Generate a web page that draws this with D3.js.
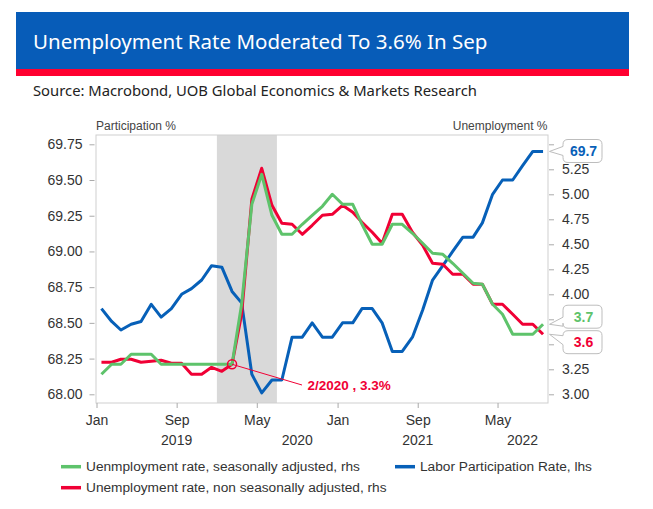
<!DOCTYPE html>
<html><head><meta charset="utf-8">
<script src="https://cdn.jsdelivr.net/npm/d3@7"></script>
<style>body{margin:0;background:#fff} svg{display:block}</style>
</head><body>
<script>
// ---------------- data ----------------
const months = ["2019-01","2019-02","2019-03","2019-04","2019-05","2019-06","2019-07","2019-08","2019-09","2019-10","2019-11","2019-12",
"2020-01","2020-02","2020-03","2020-04","2020-05","2020-06","2020-07","2020-08","2020-09","2020-10","2020-11","2020-12",
"2021-01","2021-02","2021-03","2021-04","2021-05","2021-06","2021-07","2021-08","2021-09","2021-10","2021-11","2021-12",
"2022-01","2022-02","2022-03","2022-04","2022-05","2022-06","2022-07","2022-08","2022-09"];
const participation = [68.60,68.51,68.45,68.49,68.51,68.63,68.54,68.60,68.70,68.74,68.80,68.90,
68.89,68.72,68.64,68.14,68.01,68.10,68.10,68.40,68.40,68.50,68.40,68.40,
68.50,68.50,68.60,68.60,68.50,68.30,68.30,68.40,68.59,68.80,68.90,69.00,
69.10,69.10,69.20,69.40,69.50,69.50,69.60,69.70,69.70];
const unempSA = [3.20,3.30,3.30,3.40,3.40,3.40,3.30,3.30,3.30,3.30,3.30,3.30,
3.30,3.30,3.90,4.90,5.20,4.79,4.60,4.60,4.70,4.79,4.88,5.00,
4.90,4.90,4.70,4.50,4.50,4.70,4.70,4.61,4.51,4.41,4.40,4.31,
4.21,4.11,4.10,3.90,3.80,3.60,3.60,3.60,3.70];
const unempNSA = [3.32,3.32,3.35,3.35,3.32,3.33,3.34,3.31,3.31,3.20,3.20,3.27,
3.23,3.30,3.80,4.95,5.26,4.89,4.71,4.70,4.60,4.69,4.79,4.80,
4.89,4.82,4.72,4.62,4.51,4.80,4.80,4.62,4.49,4.31,4.30,4.20,
4.20,4.10,4.10,3.90,3.90,3.80,3.70,3.70,3.60];
const leftTicks = [68.00,68.25,68.50,68.75,69.00,69.25,69.50,69.75];
const rightTicks = [3.00,3.25,3.50,3.75,4.00,4.25,4.50,4.75,5.00,5.25,5.50];
const rightTicksCovered = [3.50,3.75,5.50];   // labels hidden behind the end-value callouts
const monthTickDates = ["2019-01","2019-09","2020-05","2021-01","2021-09","2022-05"];
const monthTickNames = ["Jan","Sep","May","Jan","Sep","May"];
const yearLabels = ["2019","2020","2021","2022"];
const yearLabelDates = ["2019-09-01","2020-09-01","2021-09-01","2022-07-16"];
const shadeRange = ["2020-01-01","2020-07-01"];
const annotMonth = "2020-02", annotValue = 3.3, annotText = "2/2020 , 3.3%";
const seriesNames = ["Uenmployment rate, seasonally adjusted, rhs","Unemployment rate, non seasonally adjusted, rhs","Labor Participation Rate, lhs"];
const titleText = "Unemployment Rate Moderated To 3.6% In Sep";
const sourceText = "Source: Macrobond, UOB Global Economics & Markets Research";

// ---------------- styles ----------------
const C = {blue:"#0760b8", green:"#5ec36b", red:"#f00035", hdrBlue:"#075cb8", hdrRed:"#ff0030", shade:"#d9d9d9", frame:"#cfcfcf", text:"#333"};
const W = 653, H = 509;
const plot = {l:96.5, r:548, t:135, b:403};
const font = "'Liberation Sans', Arial, sans-serif";

const parseM = d3.timeParse("%Y-%m");
const parseD = d3.timeParse("%Y-%m-%d");
const mid = s => d3.timeDay.offset(parseM(s), 15);

const x = d3.scaleTime().domain([parseD("2019-01-01"), parseD("2022-10-01")]).range([plot.l, plot.r]);
const yL = d3.scaleLinear().domain([68, 69.75]).range([394.3, 144.3]);
const yR = d3.scaleLinear().domain([3, 5.5]).range([394.3, 144.3]);

const svg = d3.select("body").append("svg").attr("width", W).attr("height", H);

// header
svg.append("rect").attr("x",16).attr("y",12).attr("width",613).attr("height",57).attr("fill",C.hdrBlue);
svg.append("rect").attr("x",16).attr("y",69).attr("width",613).attr("height",7).attr("fill",C.hdrRed);
svg.append("text").attr("x",33).attr("y",48.5).attr("fill","#fff")
  .style("font-family","'Noto Sans', 'Open Sans', sans-serif").style("font-size","20.5px").text(titleText);
svg.append("text").attr("x",33).attr("y",96).attr("fill","#222")
  .style("font-family","'Noto Sans', 'Open Sans', sans-serif").style("font-size","14.8px").text(sourceText);

// shading
svg.append("rect").attr("x", x(parseD(shadeRange[0]))).attr("y", plot.t)
  .attr("width", x(parseD(shadeRange[1])) - x(parseD(shadeRange[0]))).attr("height", plot.b - plot.t).attr("fill", C.shade);

// frame
svg.append("rect").attr("x",plot.l-0.5).attr("y",plot.t).attr("width",plot.r-plot.l+0.5).attr("height",plot.b-plot.t)
  .attr("fill","none").attr("stroke",C.frame).attr("stroke-width",1);

// left axis
const gL = svg.append("g").attr("transform",`translate(94.5,0)`)
  .call(d3.axisLeft(yL).tickValues(leftTicks).tickFormat(d3.format(".2f")).tickSize(5).tickPadding(7));
gL.select(".domain").remove();
gL.selectAll("line").attr("stroke","#aaa");
gL.selectAll("text").style("font-family",font).style("font-size","14px").attr("fill",C.text);

// right axis
const fmt2 = d3.format(".2f");
const gR = svg.append("g").attr("transform",`translate(549,0)`)
  .call(d3.axisRight(yR).tickValues(rightTicks).tickFormat(d => rightTicksCovered.includes(d) ? "" : fmt2(d)).tickSize(5).tickPadding(8));
gR.select(".domain").remove();
gR.selectAll("line").attr("stroke","#aaa");
gR.selectAll("text").style("font-family",font).style("font-size","14px").attr("fill",C.text);

// bottom axis
const gB = svg.append("g").attr("transform",`translate(0,${plot.b})`)
  .call(d3.axisBottom(x).tickValues(monthTickDates.map(parseM)).tickFormat((d,i)=>monthTickNames[i]).tickSize(5).tickPadding(7));
gB.select(".domain").remove();
gB.selectAll("line").attr("stroke","#aaa");
gB.selectAll("text").style("font-family",font).style("font-size","14px").attr("fill",C.text);
svg.append("g").selectAll("text").data(yearLabels).join("text")
  .attr("x",(d,i)=>x(parseD(yearLabelDates[i]))).attr("y",445).attr("text-anchor","middle")
  .style("font-family",font).style("font-size","14px").attr("fill",C.text).text(d=>d);

// axis titles
svg.append("text").attr("x",96).attr("y",129.5).style("font-family",font).style("font-size","12px").attr("fill","#444").text("Participation %");
svg.append("text").attr("x",547.5).attr("y",129.5).attr("text-anchor","end").style("font-family",font).style("font-size","12px").attr("fill","#444").text("Unemployment %");

// series
const dates = months.map(mid);
const lineL = d3.line().x((d,i)=>x(dates[i])).y(d=>yL(d));
const lineR = d3.line().x((d,i)=>x(dates[i])).y(d=>yR(d));
svg.append("path").datum(participation).attr("d",lineL).attr("fill","none").attr("stroke",C.blue).attr("stroke-width",3).attr("stroke-linejoin","round");
svg.append("path").datum(unempNSA).attr("d",lineR).attr("fill","none").attr("stroke",C.red).attr("stroke-width",3).attr("stroke-linejoin","round");
svg.append("path").datum(unempSA).attr("d",lineR).attr("fill","none").attr("stroke",C.green).attr("stroke-width",3).attr("stroke-linejoin","round");

// annotation
const ax = x(mid(annotMonth)), ay = yR(annotValue);
svg.append("line").attr("x1",ax).attr("y1",ay).attr("x2",302).attr("y2",385).attr("stroke",C.red).attr("stroke-width",1);
svg.append("circle").attr("cx",ax).attr("cy",ay).attr("r",4.5).attr("fill","none").attr("stroke",C.red).attr("stroke-width",1.5);
svg.append("text").attr("x",307.5).attr("y",389.5).style("font-family",font).style("font-size","13.5px").style("font-weight","bold").attr("fill",C.red).text(annotText);

// end callouts
function callout(tipY, boxCY, label, color){
  const bx = 563, bw = 39, bh = 23, r = 5, tipX = 549.5;
  const top = boxCY - bh/2, bot = boxCY + bh/2;
  const py1 = Math.max(top+r, Math.min(bot-r-6, tipY-5)), py2 = py1 + 9;
  const p = `M${bx+r},${top} H${bx+bw-r} Q${bx+bw},${top} ${bx+bw},${top+r} V${bot-r} Q${bx+bw},${bot} ${bx+bw-r},${bot} H${bx+r} Q${bx},${bot} ${bx},${bot-r} V${py2} L${tipX},${tipY} L${bx},${py1} V${top+r} Q${bx},${top} ${bx+r},${top} Z`;
  svg.append("path").attr("d",p).attr("fill","#fff").attr("stroke","#bdbdbd").attr("stroke-width",1);
  svg.append("text").attr("x",bx+bw/2+1).attr("y",boxCY+5).attr("text-anchor","middle").style("font-family",font)
    .style("font-size","14px").style("font-weight","bold").attr("fill",color).text(label);
}
const last = months.length-1;
callout(yL(participation[last]), 151, participation[last].toFixed(1), C.blue);
callout(yR(unempSA[last]), 316.7, unempSA[last].toFixed(1), C.green);
callout(yR(unempNSA[last]), 342.2, unempNSA[last].toFixed(1), C.red);

// legend
const leg = [{n:seriesNames[0], c:C.green, x:61, y:466.7},{n:seriesNames[2], c:C.blue, x:395, y:466.7},{n:seriesNames[1], c:C.red, x:61, y:487.7}];
const lg = svg.append("g").selectAll("g").data(leg).join("g");
lg.append("line").attr("x1",d=>d.x).attr("x2",d=>d.x+20).attr("y1",d=>d.y).attr("y2",d=>d.y).attr("stroke",d=>d.c).attr("stroke-width",3.5);
lg.append("text").attr("x",d=>d.x+25).attr("y",d=>d.y+4.5).style("font-family",font).style("font-size","13.7px").attr("fill",C.text).text(d=>d.n);
</script>
</body></html>
